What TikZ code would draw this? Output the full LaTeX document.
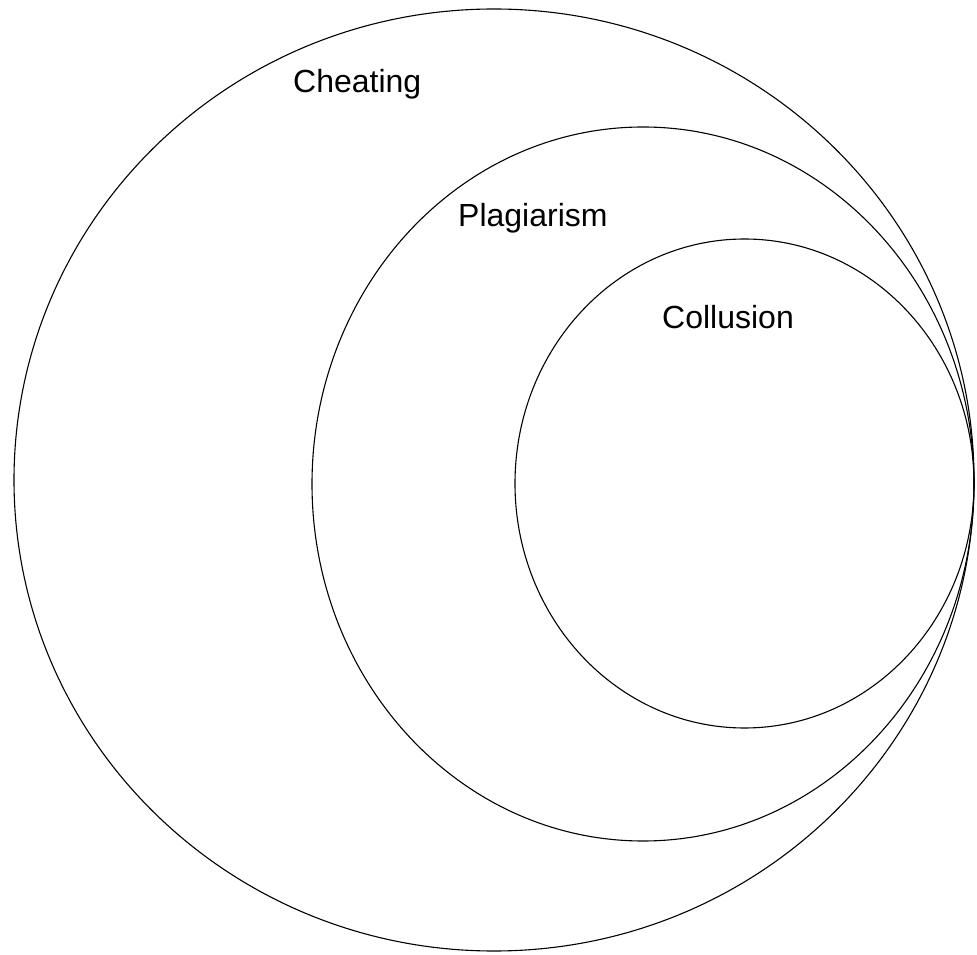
\documentclass[tikz,border=0pt]{standalone}
\usepackage{fontspec}
\setmainfont{Liberation Sans}
\usepackage{tikz}
\usetikzlibrary{positioning}

\tikzset{
  setline/.style={draw=black, line width=1.1pt},
  setlabel/.style={anchor=base west, inner sep=0pt, font=\fontsize{32}{38}\selectfont}
}

\begin{document}
\begin{tikzpicture}[x=1pt, y=1pt]
  \useasboundingbox (0,0) rectangle (977,954);

  % nested sets, all touching at the right
  \foreach \cx/\cy/\rx/\ry in {494/474/480/471, 643/470/331/357, 744.5/470.5/229.5/244.5} {
      \draw[setline] (\cx,\cy) ellipse ({\rx} and {\ry});
    }

  % set names
  \node[setlabel] (cheating) at (293,861) {Cheating};
  \node[setlabel] (plagiarism) at (458,727) {Plagiarism};
  \node[setlabel] (collusion) at (662,625) {Collusion};
\end{tikzpicture}
\end{document}
